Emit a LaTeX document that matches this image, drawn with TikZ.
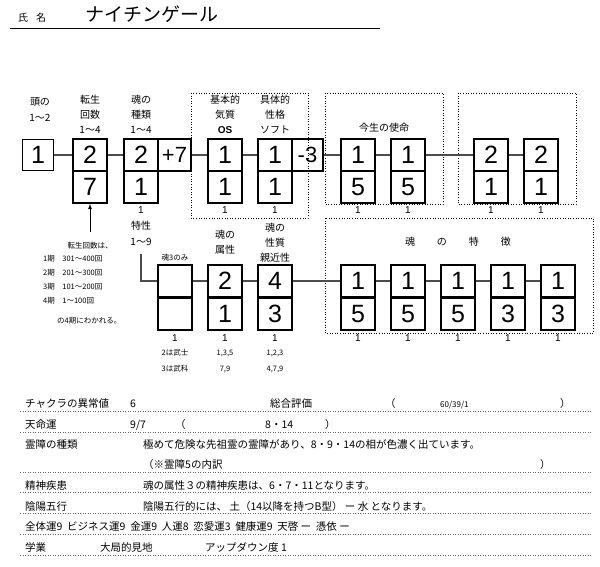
\documentclass[tikz,border=0pt]{standalone}
\usepackage{fontspec}
\setmainfont{Liberation Sans}
\newfontfamily\jp{Noto Sans CJK JP}
\begin{document}
\begin{tikzpicture}[x=1pt,y=-1pt,
 cell/.style={draw,line width=1.6pt,minimum width=34pt,minimum height=32pt,inner sep=0pt,font=\fontsize{25}{25}\selectfont},
 lab/.style={font=\jp\fontsize{10}{10}\selectfont,inner sep=0pt},
 sm/.style={font=\jp\fontsize{7.5}{8}\selectfont,inner sep=0pt},
 one/.style={font=\fontsize{10}{10}\selectfont,inner sep=0pt},
 row/.style={font=\jp\fontsize{10.5}{10.5}\selectfont,inner sep=0pt,anchor=base west},
 con/.style={line width=1.2pt,draw=black!70},
 dot/.style={dotted,line width=0.6pt},
 rule/.style={dotted,line width=0.5pt,draw=black!60}]
\useasboundingbox (0,0) rectangle (600,567);
% header
\node[anchor=base west,inner sep=0pt,font=\jp\fontsize{10}{10}\selectfont] (hn) at (18,22) {氏\hspace{0.8em}名};
\node[anchor=base west,inner sep=0pt,font=\jp\fontsize{19}{19}\selectfont] (nm) at (85,22) {ナイチンゲール};
\draw[line width=0.8pt] (10,28) -- (380,28);
% dotted groups
\draw[dot] (191,93) rectangle (308,218);
\draw[dot] (325,93) rectangle (443,204);
\draw[dot] (458,93) rectangle (576,204);
\draw[dot] (325,218) rectangle (593,333);
% top row
\node[cell,minimum width=31pt,minimum height=31pt] (a) at (38,155) {1};
\node[cell] (b1) at (90,155) {2}; \node[cell] (b2) at (90,187) {7};
\node[cell] (c1) at (141,155) {2}; \node[cell] (c2) at (141,187) {1};
\node[cell,minimum width=33pt,font=\fontsize{22}{22}\selectfont] (c3) at (174.5,155) {+7};
\node[cell] (d1) at (225,155) {1}; \node[cell] (d2) at (225,187) {1};
\node[cell] (e1) at (275,155) {1}; \node[cell] (e2) at (275,187) {1};
\node[cell,minimum width=31pt,font=\fontsize{22}{22}\selectfont] (e3) at (307.5,155) {-3};
\node[cell] (f1) at (358,155) {1}; \node[cell] (f2) at (358,187) {5};
\node[cell] (g1) at (408,155) {1}; \node[cell] (g2) at (408,187) {5};
\node[cell] (h1) at (491,155) {2}; \node[cell] (h2) at (491,187) {1};
\node[cell] (i1) at (541,155) {2}; \node[cell] (i2) at (541,187) {1};
\draw[con] (a) -- (b1); \draw[con] (b1) -- (c1); \draw[con] (c3) -- (d1);
\draw[con] (d1) -- (e1); \draw[con] (e3) -- (f1); \draw[con] (f1) -- (g1);
\draw[con] (g1) -- (h1); \draw[con] (h1) -- (i1);
% top labels
\node[lab] (l1) at (40,102) {頭の}; \node[lab] (l1b) at (40,118) {1～2};
\node[lab] (l2) at (90,100) {転生}; \node[lab] (l2b) at (90,115) {回数}; \node[lab] (l2c) at (90,130) {1～4};
\node[lab] (l3) at (141,100) {魂の}; \node[lab] (l3b) at (141,115) {種類}; \node[lab] (l3c) at (141,130) {1～4};
\node[lab] (l4) at (225,100) {基本的}; \node[lab] (l4b) at (225,115) {気質}; \node[one,font=\bfseries\fontsize{10}{10}\selectfont] (l4c) at (225,130) {OS};
\node[lab] (l5) at (275,100) {具体的}; \node[lab] (l5b) at (275,115) {性格}; \node[lab] (l5c) at (275,130) {ソフト};
\node[lab] (l6) at (384,128) {今生の使命};
\foreach \x/\n in {141/u1,225/u2,275/u3,358/u4,408/u5,491/u6,541/u7} \node[one] (\n) at (\x,210) {1};
\node[lab] (tk) at (141,226) {特性}; \node[lab] (tk2) at (141,242) {1～9};
% arrow and note
\coordinate (ar) at (90,232);
\draw[-latex,line width=0.8pt] (ar) -- (b2.south);
\node[sm] (n0) at (90,246) {転生回数は、};
\node[sm,anchor=west] (n1) at (43,259) {1期\quad 301～400回};
\node[sm,anchor=west] (n2) at (43,273) {2期\quad 201～300回};
\node[sm,anchor=west] (n3) at (43,287) {3期\quad 101～200回};
\node[sm,anchor=west] (n4) at (43,301) {4期\quad 1～100回};
\node[sm,anchor=west] (n5) at (57,321) {の4期にわかれる。};
% bottom row
\node[cell] (p1) at (175,281) {}; \node[cell] (p2) at (175,314) {};
\node[cell] (q1) at (225,281) {2}; \node[cell] (q2) at (225,314) {1};
\node[cell] (r1) at (275,281) {4}; \node[cell] (r2) at (275,314) {3};
\node[cell] (s1) at (358,281) {1}; \node[cell] (s2) at (358,314) {5};
\node[cell] (t1) at (408,281) {1}; \node[cell] (t2) at (408,314) {5};
\node[cell] (v1) at (458,281) {1}; \node[cell] (v2) at (458,314) {5};
\node[cell] (w1) at (508,281) {1}; \node[cell] (w2) at (508,314) {3};
\node[cell] (z1) at (558,281) {1}; \node[cell] (z2) at (558,314) {3};
\draw[con] (tk2.south) ++(0,8) |- (p1.west);
\draw[con] (p1) -- (q1); \draw[con] (q1) -- (r1); \draw[con] (r1) -- (s1);
\draw[con] (s1) -- (t1); \draw[con] (t1) -- (v1); \draw[con] (v1) -- (w1); \draw[con] (w1) -- (z1);
\node[sm] (m3) at (175,258) {魂3のみ};
\node[lab] (k1) at (225,235) {魂の}; \node[lab] (k1b) at (225,250) {属性};
\node[lab] (k2) at (275,228) {魂の}; \node[lab] (k2b) at (275,243) {性質}; \node[lab] (k2c) at (275,258) {親近性};
\node[lab] (tok) at (458,242) {魂\hspace{2.2em}の\hspace{2.2em}特\hspace{2.2em}徴};
\foreach \x/\n in {175/b1o,225/b2o,275/b3o,358/b4o,408/b5o,458/b6o,508/b7o,558/b8o} \node[one] (\n) at (\x,338) {1};
\node[sm] (x1) at (175,353) {2は武士}; \node[sm] (x2) at (175,369) {3は武科};
\node[sm] (y1) at (225,353) {1,3,5}; \node[sm] (y2) at (225,369) {7,9};
\node[sm] (y3) at (275,353) {1,2,3}; \node[sm] (y4) at (275,369) {4,7,9};
% table
\foreach \y in {411,432,472,492,513,534,555} \draw[rule] (20,\y) -- (592,\y);
\node[row] at (25,407) {チャクラの異常値}; \node[row] at (130,407) {6};
\node[row] at (270,407) {総合評価}; \node[row] at (385,407) {（}; \node[row,font=\jp\fontsize{8}{8}\selectfont] at (440,407) {60/39/1}; \node[row] at (560,407) {）};
\node[row] at (25,428) {天命運}; \node[row] at (130,428) {9/7}; \node[row] at (175,428) {（}; \node[row] at (265,428) {8・14}; \node[row] at (325,428) {）};
\node[row] at (25,448) {霊障の種類}; \node[row] at (143,448) {極めて危険な先祖霊の霊障があり、8・9・14の相が色濃く出ています。};
\node[row] at (143,468) {（※霊障5の内訳}; \node[row] at (540,468) {）};
\node[row] at (25,489) {精神疾患}; \node[row] at (143,489) {魂の属性３の精神疾患は、6・7・11となります。};
\node[row] at (25,510) {陰陽五行}; \node[row] at (143,510) {陰陽五行的には、 土（14以降を持つB型） ー 水 となります。};
\node[row] at (25,530) {全体運9\ \ ビジネス運9\ \ 金運9\ \ 人運8\ \ 恋愛運3\ \ 健康運9\ \ 天啓 ー\ \ 憑依 ー};
\node[row] at (25,551) {学業}; \node[row] at (100,551) {大局的見地}; \node[row] at (205,551) {アップダウン度 1};
\end{tikzpicture}
\end{document}
